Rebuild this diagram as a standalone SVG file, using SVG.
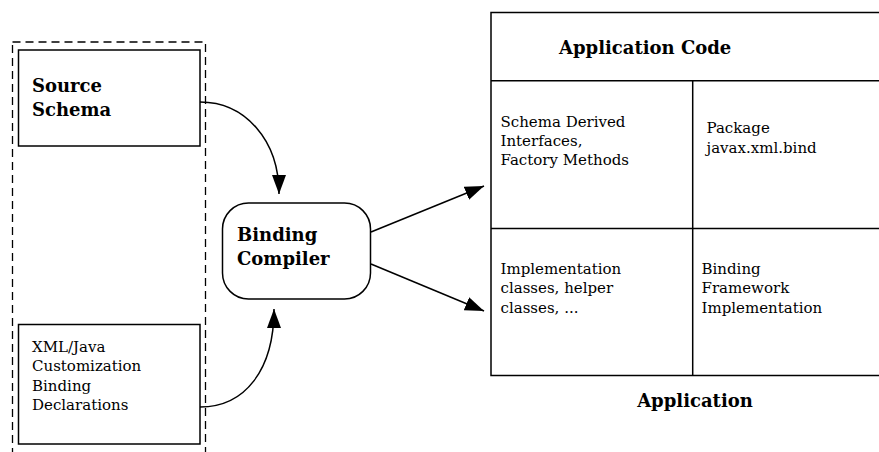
<svg xmlns="http://www.w3.org/2000/svg" width="879" height="452" viewBox="0 0 879 452">
<style>
.box{fill:#fff;stroke:#000;stroke-width:1.5}
.dash{fill:none;stroke:#000;stroke-width:1.3;stroke-dasharray:8,5}
.ln{fill:none;stroke:#000;stroke-width:1.5}
.b{font-family:"DejaVu Serif","Liberation Serif",serif;font-weight:bold;font-size:18px;fill:#000}
.t{font-family:"DejaVu Serif","Liberation Serif",serif;font-size:15px;fill:#000}
</style>
<defs>
<marker id="ah" markerUnits="userSpaceOnUse" markerWidth="20" markerHeight="16" refX="19" refY="7" orient="auto">
<path d="M0,0 L19,7 L0,14 z" fill="#000"/>
</marker>
</defs>
<rect width="879" height="452" fill="#fff"/>
<g id="source-group">
<rect class="dash" x="12.5" y="42" width="193" height="430"/>
</g>
<g id="source-schema">
<rect class="box" x="18.5" y="50" width="181.5" height="96"/>
<text class="b" x="32" y="92">Source</text>
<text class="b" x="32" y="116">Schema</text>
</g>
<g id="customization">
<rect class="box" x="18.5" y="324.5" width="181.5" height="119.5"/>
<text class="t" x="32" y="352">XML/Java</text>
<text class="t" x="32" y="371">Customization</text>
<text class="t" x="32" y="390.5">Binding</text>
<text class="t" x="32" y="409.5">Declarations</text>
</g>
<g id="binding-compiler">
<rect class="box" x="222.5" y="203" width="148" height="96" rx="26" ry="26"/>
<text class="b" x="237" y="241">Binding</text>
<text class="b" x="237" y="265">Compiler</text>
</g>
<g id="application">
<rect class="box" x="491" y="12.5" width="420" height="363"/>
<line class="ln" x1="491" y1="80.7" x2="911" y2="80.7"/>
<line class="ln" x1="491" y1="228.5" x2="911" y2="228.5"/>
<line class="ln" x1="692.7" y1="80.7" x2="692.7" y2="375.5"/>
<text class="b" x="559" y="53.5">Application Code</text>
<text class="t" x="500.5" y="127">Schema Derived</text>
<text class="t" x="500.5" y="146">Interfaces,</text>
<text class="t" x="500.5" y="165">Factory Methods</text>
<text class="t" x="706.5" y="133">Package</text>
<text class="t" x="706.5" y="152.5">javax.xml.bind</text>
<text class="t" x="500.5" y="274">Implementation</text>
<text class="t" x="500.5" y="293">classes, helper</text>
<text class="t" x="500.5" y="312.5">classes, ...</text>
<text class="t" x="701.5" y="274">Binding</text>
<text class="t" x="701.5" y="293">Framework</text>
<text class="t" x="701.5" y="312.5">Implementation</text>
<text class="b" x="695" y="407" text-anchor="middle">Application</text>
</g>
<g id="connectors">
<path class="ln" d="M200,102 C245,102 279,140 279,194" marker-end="url(#ah)"/>
<path class="ln" d="M200,407 C245,407 274,370 274,309" marker-end="url(#ah)"/>
<line class="ln" x1="371" y1="232" x2="484" y2="186" marker-end="url(#ah)"/>
<line class="ln" x1="371" y1="264" x2="484" y2="311" marker-end="url(#ah)"/>
</g>
</svg>
